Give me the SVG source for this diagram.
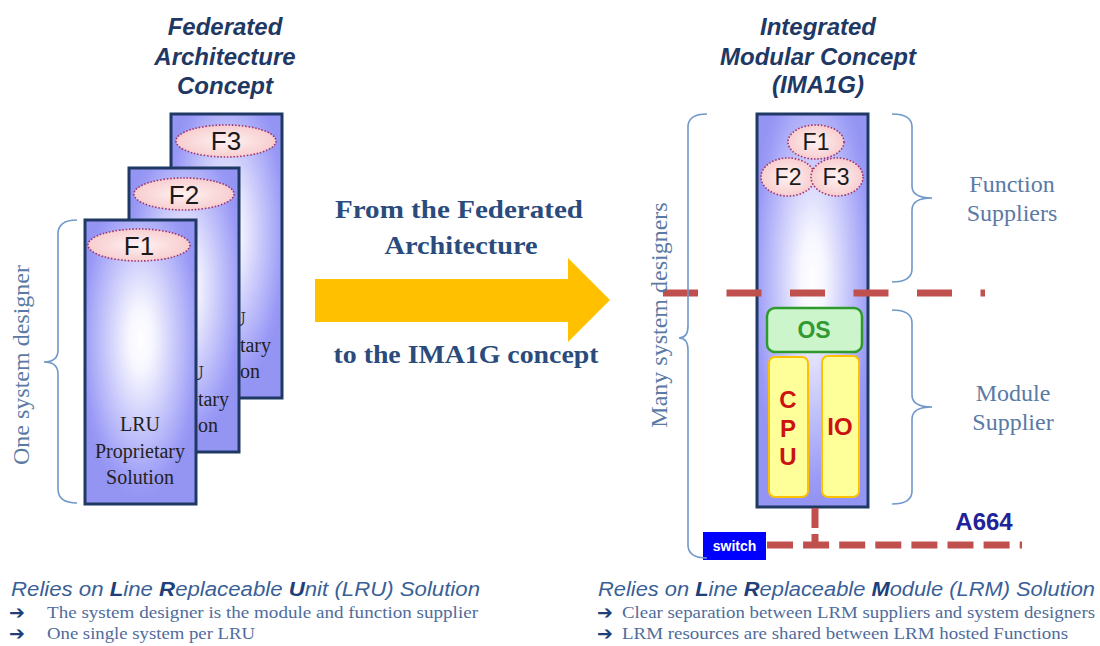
<svg xmlns="http://www.w3.org/2000/svg" width="1100" height="646" viewBox="0 0 1100 646">
<defs>
<radialGradient id="boxg" cx="0.5" cy="0.42" r="0.56">
<stop offset="0" stop-color="#FFFFFF"/>
<stop offset="0.2" stop-color="#F6F6FF"/>
<stop offset="0.9" stop-color="#9C9CF7"/>
<stop offset="1" stop-color="#9494F2"/>
</radialGradient>
<radialGradient id="fg" cx="0.5" cy="0.5" r="0.6">
<stop offset="0" stop-color="#FFF2F2"/>
<stop offset="1" stop-color="#F6C6C8"/>
</radialGradient>
<style>
.box{fill:url(#boxg);stroke:#1F3864;stroke-width:3}
.fe{fill:url(#fg);stroke:#A0306E;stroke-width:1.6;stroke-dasharray:1.5 1.8}
.ft{font-family:"Liberation Sans",Arial,sans-serif;fill:#1a1a1a;text-anchor:middle}
.title{font-family:"Liberation Sans",Arial,sans-serif;font-weight:bold;font-style:italic;font-size:24px;fill:#1F3864;text-anchor:middle}
.lru{font-family:"Liberation Serif","Times New Roman",serif;font-size:20px;fill:#222;text-anchor:middle}
.lrus{font-family:"Liberation Serif","Times New Roman",serif;font-size:20px;fill:#222}
.brace{fill:none;stroke:#7098C8;stroke-width:1.6}
.blab{font-family:"Liberation Serif","Times New Roman",serif;font-size:24px;fill:#5A79A5;text-anchor:middle}
.mid{font-family:"Liberation Serif","Times New Roman",serif;font-weight:bold;font-size:26px;fill:#2A4B7C;text-anchor:middle}
.red{stroke:#C0504D;fill:none}
.bt{font-family:"Liberation Sans",Arial,sans-serif;font-style:italic;font-size:20px;fill:#3A5F96}
.bt tspan.b{font-weight:bold;fill:#1F3F7A}
.bul{font-family:"Liberation Serif","Times New Roman",serif;font-size:17px;fill:#4F6C9C}
.arr{font-family:"DejaVu Sans",sans-serif;font-weight:bold;font-size:19px;fill:#1F3F7A}
.cpu{font-family:"Liberation Sans",Arial,sans-serif;font-weight:bold;font-size:24px;fill:#CC1111;text-anchor:middle}
</style>
</defs>
<rect width="1100" height="646" fill="#FFFFFF"/>

<g id="federated-title">
<text class="title" x="225" y="35">Federated</text>
<text class="title" x="225" y="65">Architecture</text>
<text class="title" x="225" y="94">Concept</text>
</g>

<g id="lru-f3">
<rect class="box" x="171" y="114" width="111" height="284"/>
<text class="lru" x="226" y="326">LRU</text>
<text class="lru" x="226" y="352">Proprietary</text>
<text class="lrus" x="240" y="378">on</text>
<ellipse class="fe" cx="226" cy="141" rx="50" ry="16"/>
<text class="ft" x="226" y="150" font-size="26">F3</text>
</g>

<g id="lru-f2">
<rect class="box" x="129" y="168" width="110" height="284"/>
<text class="lru" x="184" y="380">LRU</text>
<text class="lru" x="184" y="406">Proprietary</text>
<text class="lrus" x="198" y="432">on</text>
<ellipse class="fe" cx="184" cy="194" rx="50" ry="16"/>
<text class="ft" x="184" y="204" font-size="26">F2</text>
</g>

<g id="lru-f1">
<rect class="box" x="85" y="220" width="111" height="284"/>
<text class="lru" x="140" y="431">LRU</text>
<text class="lru" x="140" y="458">Proprietary</text>
<text class="lru" x="140" y="484">Solution</text>
<ellipse class="fe" cx="139" cy="245" rx="51" ry="16"/>
<text class="ft" x="139" y="255" font-size="26">F1</text>
</g>

<g id="one-designer">
<path class="brace" d="M77,220 Q58,220 58,234 L58,350 Q58,362 44,362 Q58,362 58,374 L58,489 Q58,503 77,503"/>
<text class="blab" transform="translate(29,365) rotate(-90)">One system designer</text>
</g>

<g id="transition">
<polygon points="315,279 568,279 568,258 610,300 568,342 568,322 315,322" fill="#FFC000"/>
<text class="mid" x="459" y="218" textLength="248" lengthAdjust="spacingAndGlyphs">From the Federated</text>
<text class="mid" x="461" y="254" textLength="153" lengthAdjust="spacingAndGlyphs">Architecture</text>
<text class="mid" x="466" y="363" textLength="265" lengthAdjust="spacingAndGlyphs">to the IMA1G concept</text>
</g>

<g id="ima-title">
<text class="title" x="818" y="35">Integrated</text>
<text class="title" x="818" y="65">Modular Concept</text>
<text class="title" x="818" y="93">(IMA1G)</text>
</g>

<g id="ima-module">
<rect class="box" x="757" y="114" width="111" height="393"/>
<ellipse class="fe" cx="816" cy="142" rx="28" ry="17"/>
<text class="ft" x="816" y="150" font-size="23">F1</text>
<ellipse class="fe" cx="788" cy="177" rx="27" ry="19"/>
<ellipse class="fe" cx="837" cy="177" rx="26" ry="19"/>
<text class="ft" x="788" y="185" font-size="23">F2</text>
<text class="ft" x="836" y="185" font-size="23">F3</text>
</g>

<g id="os">
<rect x="767" y="308" width="95" height="44" rx="8" fill="#CCF5CC" stroke="#2E9A2E" stroke-width="2.5"/>
<text x="814" y="338" font-family="Liberation Sans, Arial, sans-serif" font-weight="bold" font-size="23" fill="#339933" text-anchor="middle">OS</text>
</g>

<g id="cpu">
<rect x="769" y="357" width="39" height="140" rx="6" fill="#FFFF99" stroke="#FFC000" stroke-width="2"/>
<text class="cpu" x="788" y="408">C</text>
<text class="cpu" x="788" y="437">P</text>
<text class="cpu" x="788" y="465">U</text>
</g>

<g id="io">
<rect x="822" y="356" width="37" height="141" rx="6" fill="#FFFF99" stroke="#FFC000" stroke-width="2"/>
<text class="cpu" x="840" y="435">IO</text>
</g>

<g id="connectors">
<line class="red" x1="663" y1="293" x2="985" y2="293" stroke-width="7" stroke-dasharray="35 28.5"/>
<line class="red" x1="815" y1="508" x2="815" y2="546" stroke-width="7" stroke-dasharray="20 6"/>
<line class="red" x1="767" y1="545" x2="1022" y2="545" stroke-width="7" stroke-dasharray="26 10.1"/>
</g>

<g id="switch">
<rect x="703" y="532" width="63" height="28" fill="#0000FF"/>
<text x="734.5" y="551" font-family="Liberation Sans, Arial, sans-serif" font-weight="bold" font-size="14" fill="#FFFFFF" text-anchor="middle">switch</text>
</g>

<g id="a664">
<text x="984" y="530" font-family="Liberation Sans, Arial, sans-serif" font-weight="bold" font-size="24" fill="#1F2399" text-anchor="middle">A664</text>
</g>

<g id="many-designers">
<path class="brace" d="M707,114 Q688,114 688,127 L688,326 Q688,338 679,338 Q688,338 688,350 L688,545 Q688,558 707,558"/>
<text class="blab" transform="translate(667,315) rotate(-90)">Many system  designers</text>
</g>

<g id="function-suppliers">
<path class="brace" d="M892,114 Q912,114 912,127 L912,186 Q912,198 932,198 Q912,198 912,210 L912,269 Q912,282 892,282"/>
<text class="blab" x="1012" y="192">Function</text>
<text class="blab" x="1012" y="221">Suppliers</text>
</g>

<g id="module-supplier">
<path class="brace" d="M892,310 Q912,310 912,323 L912,395 Q912,407 932,407 Q912,407 912,419 L912,491 Q912,504 892,504"/>
<text class="blab" x="1013" y="401">Module</text>
<text class="blab" x="1013" y="430">Supplier</text>
</g>

<g id="lru-notes">
<text class="bt" x="11" y="596" textLength="469" lengthAdjust="spacingAndGlyphs">Relies on <tspan class="b">L</tspan>ine <tspan class="b">R</tspan>eplaceable <tspan class="b">U</tspan>nit  (LRU) Solution</text>
<text class="arr" x="9" y="619">➔</text>
<text class="bul" x="47" y="618" textLength="431" lengthAdjust="spacingAndGlyphs">The system designer is the module and function  supplier</text>
<text class="arr" x="9" y="640">➔</text>
<text class="bul" x="47" y="639" textLength="208" lengthAdjust="spacingAndGlyphs">One single system per LRU</text>
</g>

<g id="lrm-notes">
<text class="bt" x="598" y="596" textLength="497" lengthAdjust="spacingAndGlyphs">Relies on <tspan class="b">L</tspan>ine <tspan class="b">R</tspan>eplaceable <tspan class="b">M</tspan>odule (LRM) Solution</text>
<text class="arr" x="597" y="619">➔</text>
<text class="bul" x="622" y="618" textLength="473" lengthAdjust="spacingAndGlyphs">Clear separation between LRM suppliers and system designers</text>
<text class="arr" x="597" y="640">➔</text>
<text class="bul" x="622" y="639" textLength="446" lengthAdjust="spacingAndGlyphs">LRM resources are shared between LRM hosted Functions</text>
</g>
</svg>
